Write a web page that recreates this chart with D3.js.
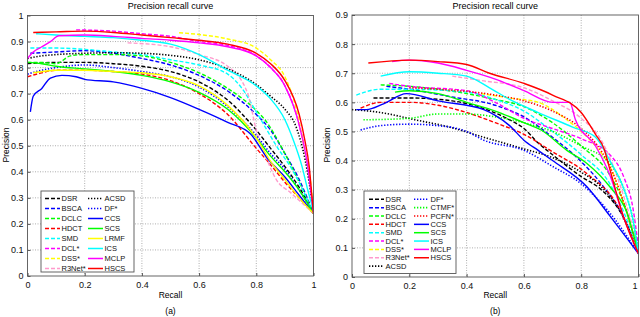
<!DOCTYPE html>
<html>
<head>
<title>Precision recall curves</title>
<script src="https://d3js.org/d3.v7.min.js"></script>
<style type="text/css">
  body { margin:0; background:white; }
  svg { display:block; font-family:"Liberation Sans", Arial, sans-serif; }
</style>
</head>
<body>
<div id="chart"></div>
<script type="text/javascript">

// ---------- data: panel (a) ----------
var xTicks = [0, 0.2, 0.4, 0.6, 0.8, 1];
var yTicksA = [0, 0.1, 0.2, 0.3, 0.4, 0.5, 0.6, 0.7, 0.8, 0.9, 1];
var yTicksB = [0, 0.1, 0.2, 0.3, 0.4, 0.5, 0.6, 0.7, 0.8, 0.9];

var a_DSR = [[0,0.815],[0.1,0.82],[0.2,0.82],[0.3,0.815],[0.4,0.805],[0.5,0.785],[0.6,0.745],[0.7,0.675],[0.8,0.56],[0.85,0.49],[0.9,0.42],[0.95,0.34],[1,0.24]];
var a_BSCA = [[0.01,0.855],[0.1,0.86],[0.2,0.865],[0.3,0.855],[0.4,0.835],[0.5,0.81],[0.6,0.77],[0.7,0.71],[0.8,0.62],[0.85,0.56],[0.9,0.47],[0.95,0.37],[1,0.24]];
var a_DCLC = [[0,0.82],[0.05,0.82],[0.1,0.815],[0.15,0.845],[0.2,0.85],[0.3,0.85],[0.4,0.845],[0.5,0.82],[0.6,0.78],[0.7,0.72],[0.8,0.635],[0.83,0.6],[0.9,0.47],[0.95,0.36],[1,0.24]];
var a_HDCT = [[0,0.765],[0.05,0.78],[0.1,0.79],[0.2,0.79],[0.3,0.785],[0.4,0.775],[0.5,0.75],[0.6,0.7],[0.7,0.62],[0.8,0.49],[0.84,0.44],[0.9,0.36],[0.95,0.3],[1,0.24]];
var a_SMD = [[0.01,0.875],[0.1,0.875],[0.2,0.87],[0.3,0.86],[0.4,0.85],[0.5,0.83],[0.6,0.81],[0.7,0.775],[0.75,0.72],[0.8,0.63],[0.87,0.5],[0.93,0.4],[1,0.24]];
var a_DCLs = [[0.17,0.945],[0.3,0.94],[0.4,0.93],[0.5,0.92],[0.6,0.9],[0.7,0.885],[0.8,0.845],[0.85,0.8],[0.9,0.73],[0.95,0.58],[0.98,0.42],[1,0.24]];
var a_DSSs = [[0.53,0.934],[0.6,0.927],[0.7,0.91],[0.8,0.875],[0.85,0.83],[0.9,0.765],[0.94,0.64],[0.97,0.48],[0.99,0.36],[1,0.25]];
var a_R3Net = [[0.35,0.895],[0.5,0.88],[0.6,0.85],[0.7,0.805],[0.77,0.7],[0.8,0.56],[0.84,0.44],[0.87,0.37],[0.92,0.32],[1,0.24]];
var a_ACSD = [[0,0.835],[0.05,0.845],[0.1,0.85],[0.2,0.855],[0.3,0.857],[0.4,0.855],[0.5,0.847],[0.6,0.83],[0.7,0.795],[0.8,0.735],[0.85,0.69],[0.9,0.64],[0.94,0.57],[0.97,0.45],[1,0.25]];
var a_DFs = [[0,0.775],[0.05,0.79],[0.1,0.8],[0.2,0.81],[0.3,0.8],[0.4,0.785],[0.5,0.765],[0.6,0.725],[0.7,0.65],[0.8,0.54],[0.85,0.47],[0.9,0.41],[0.95,0.33],[1,0.24]];
var a_CCS = [[0.01,0.63],[0.02,0.69],[0.05,0.72],[0.08,0.76],[0.12,0.77],[0.17,0.765],[0.2,0.755],[0.3,0.745],[0.4,0.72],[0.5,0.685],[0.6,0.64],[0.7,0.59],[0.78,0.545],[0.84,0.45],[0.9,0.38],[0.95,0.31],[1,0.24]];
var a_SCS = [[0,0.82],[0.05,0.815],[0.1,0.805],[0.2,0.795],[0.3,0.785],[0.4,0.77],[0.5,0.745],[0.6,0.705],[0.7,0.64],[0.8,0.53],[0.85,0.46],[0.9,0.4],[0.95,0.33],[1,0.24]];
var a_LRMF = [[0.02,0.78],[0.1,0.79],[0.2,0.79],[0.3,0.785],[0.4,0.78],[0.5,0.765],[0.6,0.73],[0.7,0.655],[0.8,0.53],[0.85,0.44],[0.9,0.37],[0.95,0.3],[1,0.24]];
var a_ICS = [[0.03,0.93],[0.1,0.925],[0.2,0.92],[0.3,0.915],[0.4,0.905],[0.5,0.89],[0.6,0.85],[0.7,0.79],[0.8,0.73],[0.85,0.68],[0.9,0.6],[0.93,0.52],[0.96,0.42],[0.98,0.33],[1,0.25]];
var a_MCLP = [[0,0.835],[0.02,0.86],[0.05,0.88],[0.08,0.9],[0.11,0.922],[0.2,0.925],[0.3,0.92],[0.4,0.912],[0.5,0.905],[0.6,0.895],[0.7,0.88],[0.8,0.845],[0.85,0.8],[0.9,0.73],[0.95,0.58],[0.98,0.42],[1,0.24]];
var a_HSCS = [[0.02,0.935],[0.1,0.937],[0.2,0.94],[0.3,0.935],[0.4,0.925],[0.5,0.915],[0.6,0.905],[0.7,0.89],[0.8,0.855],[0.85,0.815],[0.9,0.75],[0.95,0.62],[0.97,0.52],[0.985,0.42],[0.995,0.3],[1,0.24]];

// ---------- data: panel (b) ----------
var b_DSR = [[0.075,0.615],[0.2,0.615],[0.35,0.605],[0.47,0.575],[0.55,0.54],[0.6,0.51],[0.65,0.46],[0.7,0.42],[0.8,0.345],[0.87,0.3],[0.95,0.2],[1,0.08]];
var b_BSCA = [[0.12,0.655],[0.2,0.645],[0.34,0.62],[0.5,0.59],[0.6,0.55],[0.7,0.48],[0.78,0.415],[0.87,0.32],[0.94,0.22],[1,0.08]];
var b_DCLC = [[0.1,0.66],[0.2,0.655],[0.4,0.63],[0.5,0.61],[0.6,0.585],[0.7,0.53],[0.8,0.45],[0.9,0.35],[0.95,0.25],[1,0.08]];
var b_HDCT = [[0.03,0.58],[0.1,0.6],[0.2,0.6],[0.3,0.59],[0.4,0.565],[0.5,0.53],[0.6,0.49],[0.7,0.43],[0.82,0.355],[0.93,0.24],[1,0.08]];
var b_SMD = [[0.015,0.625],[0.1,0.645],[0.2,0.645],[0.4,0.635],[0.5,0.61],[0.6,0.57],[0.7,0.5],[0.8,0.42],[0.9,0.32],[0.95,0.22],[1,0.08]];
var b_DCLs = [[0.13,0.665],[0.2,0.655],[0.4,0.64],[0.5,0.6],[0.6,0.545],[0.7,0.51],[0.8,0.475],[0.9,0.42],[0.95,0.34],[0.98,0.24],[1,0.1]];
var b_DSSs = [[0.45,0.63],[0.55,0.615],[0.65,0.6],[0.75,0.54],[0.8,0.5],[0.85,0.45],[0.9,0.38],[0.95,0.25],[1,0.08]];
var b_R3Net = [[0.35,0.69],[0.45,0.675],[0.6,0.65],[0.7,0.605],[0.8,0.545],[0.87,0.47],[0.92,0.36],[0.96,0.24],[1,0.1]];
var b_ACSD = [[0,0.575],[0.1,0.565],[0.22,0.54],[0.34,0.515],[0.46,0.48],[0.6,0.44],[0.7,0.41],[0.8,0.36],[0.87,0.31],[0.95,0.2],[1,0.08]];
var b_DFs = [[0.03,0.505],[0.1,0.52],[0.2,0.525],[0.3,0.52],[0.4,0.5],[0.46,0.47],[0.6,0.435],[0.7,0.38],[0.8,0.32],[0.9,0.22],[1,0.08]];
var b_CTMF = [[0.04,0.54],[0.2,0.545],[0.3,0.56],[0.4,0.56],[0.5,0.55],[0.6,0.53],[0.7,0.5],[0.8,0.45],[0.9,0.39],[0.95,0.3],[0.98,0.2],[1,0.08]];
var b_PCFN = [[0.2,0.65],[0.3,0.645],[0.5,0.625],[0.6,0.605],[0.7,0.57],[0.8,0.51],[0.85,0.46],[0.9,0.38],[0.95,0.25],[1,0.08]];
var b_CCS = [[0.015,0.575],[0.05,0.575],[0.11,0.595],[0.19,0.63],[0.3,0.605],[0.46,0.575],[0.5,0.555],[0.55,0.52],[0.6,0.47],[0.65,0.435],[0.7,0.4],[0.82,0.31],[0.9,0.21],[1,0.08]];
var b_SCS = [[0.15,0.635],[0.2,0.64],[0.3,0.63],[0.4,0.6],[0.5,0.57],[0.6,0.53],[0.66,0.505],[0.75,0.435],[0.82,0.39],[0.9,0.31],[0.96,0.22],[1,0.08]];
var b_ICS = [[0.1,0.69],[0.2,0.705],[0.3,0.7],[0.4,0.69],[0.48,0.65],[0.55,0.61],[0.65,0.565],[0.77,0.515],[0.85,0.48],[0.9,0.4],[0.95,0.3],[0.98,0.2],[1,0.08]];
var b_MCLP = [[0.14,0.74],[0.2,0.745],[0.3,0.735],[0.4,0.71],[0.5,0.68],[0.6,0.64],[0.7,0.6],[0.76,0.6],[0.78,0.54],[0.85,0.45],[0.9,0.35],[0.95,0.2],[1,0.08]];
var b_HSCS = [[0.057,0.735],[0.2,0.745],[0.3,0.74],[0.4,0.73],[0.48,0.7],[0.6,0.665],[0.7,0.625],[0.8,0.565],[0.85,0.49],[0.88,0.44],[0.9,0.37],[0.95,0.2],[1,0.08]];

// legend order (column 1 then column 2)
var seriesA = [
  ["DSR", a_DSR, "#000", "dash"], ["BSCA", a_BSCA, "#00f", "dash"], ["DCLC", a_DCLC, "#0f0", "dash"],
  ["HDCT", a_HDCT, "#f00", "dash"], ["SMD", a_SMD, "#0ff", "dash"], ["DCL*", a_DCLs, "#f0f", "dash"],
  ["DSS*", a_DSSs, "#ff0", "dash"], ["R3Net*", a_R3Net, "#f9c", "dash"],
  ["ACSD", a_ACSD, "#000", "dot"], ["DF*", a_DFs, "#00f", "dot"], ["CCS", a_CCS, "#00f", "solid"],
  ["SCS", a_SCS, "#0f0", "solid"], ["LRMF", a_LRMF, "#ff0", "solid"], ["ICS", a_ICS, "#0ff", "solid"],
  ["MCLP", a_MCLP, "#f0f", "solid"], ["HSCS", a_HSCS, "#f00", "solid"]
];
var seriesB = [
  ["DSR", b_DSR, "#000", "dash"], ["BSCA", b_BSCA, "#00f", "dash"], ["DCLC", b_DCLC, "#0f0", "dash"],
  ["HDCT", b_HDCT, "#f00", "dash"], ["SMD", b_SMD, "#0ff", "dash"], ["DCL*", b_DCLs, "#f0f", "dash"],
  ["DSS*", b_DSSs, "#ff0", "dash"], ["R3Net*", b_R3Net, "#f9c", "dash"], ["ACSD", b_ACSD, "#000", "dot"],
  ["DF*", b_DFs, "#00f", "dot"], ["CTMF*", b_CTMF, "#0f0", "dot"], ["PCFN*", b_PCFN, "#f00", "dot"],
  ["CCS", b_CCS, "#00f", "solid"], ["SCS", b_SCS, "#0f0", "solid"], ["ICS", b_ICS, "#0ff", "solid"],
  ["MCLP", b_MCLP, "#f0f", "solid"], ["HSCS", b_HSCS, "#f00", "solid"]
];

var dashes = { dash: "4,2", dot: "1.3,1.7", solid: null };

var svg = d3.select("#chart").append("svg").attr("width", 640).attr("height", 317);
svg.append("rect").attr("width", 640).attr("height", 317).attr("fill", "white");

function drawPanel(cfg) {
  var x = d3.scaleLinear().domain([0, 1]).range([cfg.left, cfg.right]);
  var y = d3.scaleLinear().domain([0, cfg.yMax]).range([cfg.bottom, cfg.top]);
  var g = svg.append("g");

  // grid
  g.selectAll(".gx").data(xTicks.slice(1, -1)).enter().append("line")
    .attr("x1", d => x(d)).attr("x2", d => x(d)).attr("y1", cfg.top).attr("y2", cfg.bottom)
    .attr("stroke", "#999").attr("stroke-width", 0.8).attr("stroke-dasharray", "1,1.5");
  g.selectAll(".gy").data(cfg.yTicks.slice(1, -1)).enter().append("line")
    .attr("y1", d => y(d)).attr("y2", d => y(d)).attr("x1", cfg.left).attr("x2", cfg.right)
    .attr("stroke", "#999").attr("stroke-width", 0.8).attr("stroke-dasharray", "1,1.5");

  // curves
  var line = d3.line().x(d => x(d[0])).y(d => y(d[1])).curve(d3.curveMonotoneX);
  var clip = "clip" + cfg.id;
  svg.append("clipPath").attr("id", clip).append("rect")
    .attr("x", cfg.left).attr("y", cfg.top).attr("width", cfg.right - cfg.left).attr("height", cfg.bottom - cfg.top);
  g.append("g").attr("clip-path", "url(#" + clip + ")")
    .selectAll("path").data(cfg.series).enter().append("path")
    .attr("d", d => line(d[1]))
    .attr("fill", "none")
    .attr("stroke", d => d[2])
    .attr("stroke-width", d => d[3] == "dot" ? 1.6 : 1.4)
    .attr("stroke-dasharray", d => dashes[d[3]]);

  // frame
  g.append("rect").attr("x", cfg.left).attr("y", cfg.top)
    .attr("width", cfg.right - cfg.left).attr("height", cfg.bottom - cfg.top)
    .attr("fill", "none").attr("stroke", "#555").attr("stroke-width", 0.9);

  // axes
  var xAxis = d3.axisBottom(x).tickValues(xTicks).tickSize(-3).tickPadding(6).tickFormat(d3.format("~g"));
  var yAxis = d3.axisLeft(y).tickValues(cfg.yTicks).tickSize(-3).tickPadding(4).tickFormat(d3.format("~g"));
  var ax = g.append("g").attr("transform", "translate(0," + cfg.bottom + ")").call(xAxis);
  var ay = g.append("g").attr("transform", "translate(" + cfg.left + ",0)").call(yAxis);
  [ax, ay].forEach(function(a) {
    a.select(".domain").remove();
    a.selectAll("line").attr("stroke", "#555");
    a.selectAll("text").attr("font-size", 9).attr("font-family", "Liberation Sans, Arial, sans-serif").attr("fill", "#111");
  });
  // keep the last x label inside the window
  ax.selectAll("text").filter(d => d == 1 && cfg.right > 630).attr("text-anchor", "end").attr("dx", -1.5);

  var cx = (cfg.left + cfg.right) / 2;
  g.append("text").attr("x", cx).attr("y", 9).attr("text-anchor", "middle")
    .attr("font-size", 9).text("Precision recall curve");
  g.append("text").attr("x", cx).attr("y", 298).attr("text-anchor", "middle")
    .attr("font-size", 8.5).text("Recall");
  g.append("text").attr("x", cx).attr("y", 314).attr("text-anchor", "middle")
    .attr("font-size", 8.5).text(cfg.label);
  g.append("text").attr("transform", "translate(" + cfg.yLabelX + ",145) rotate(-90)")
    .attr("text-anchor", "middle").attr("font-size", 8.5).text("Precision");

  // legend
  var L = cfg.legend;
  g.append("rect").attr("x", L.x).attr("y", L.y).attr("width", L.w).attr("height", L.h)
    .attr("fill", "white").attr("stroke", "#555").attr("stroke-width", 0.9);
  var items = g.selectAll(".leg").data(cfg.series).enter().append("g")
    .attr("transform", function(d, i) {
      var col = i < L.rows ? 0 : 1, row = i < L.rows ? i : i - L.rows;
      return "translate(" + L.cols[col] + "," + (L.y0 + row * L.dy) + ")";
    });
  items.append("line").attr("x1", 0).attr("x2", L.len).attr("y1", 0).attr("y2", 0)
    .attr("stroke", d => d[2]).attr("stroke-width", d => d[3] == "dot" ? 1.6 : 1.5)
    .attr("stroke-dasharray", d => dashes[d[3]]);
  items.append("text").attr("x", L.len + 1.5).attr("y", 2.6)
    .attr("font-size", 7.5).attr("fill", "#111").text(d => d[0]);
}

drawPanel({
  id: "a", left: 27.5, right: 313.5, top: 15.5, bottom: 276, yMax: 1, yTicks: yTicksA,
  series: seriesA, label: "(a)", yLabelX: 9,
  legend: { x: 41, y: 191, w: 93, h: 81, rows: 8, y0: 198.5, dy: 10, cols: [45, 88], len: 15 }
});
drawPanel({
  id: "b", left: 352, right: 638.5, top: 15, bottom: 277, yMax: 0.9, yTicks: yTicksB,
  series: seriesB, label: "(b)", yLabelX: 330,
  legend: { x: 364, y: 191, w: 92, h: 82.5, rows: 9, y0: 199.3, dy: 8.35, cols: [369, 414], len: 15 }
});

</script>
</body>
</html>
